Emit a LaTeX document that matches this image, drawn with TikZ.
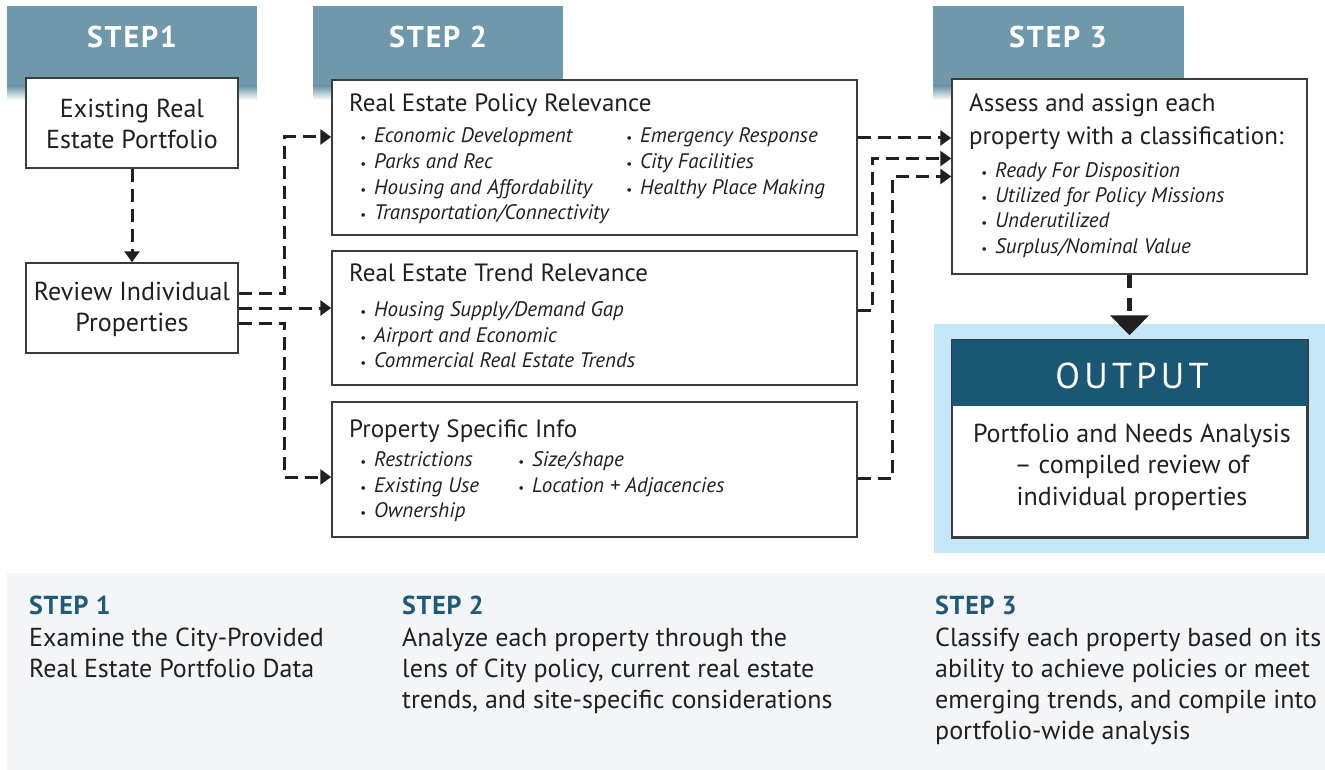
\documentclass[tikz,border=0pt]{standalone}
\usepackage{fontspec}
\setmainfont{PT Sans}
\usetikzlibrary{arrows.meta}
\definecolor{hdrblue}{RGB}{111,152,171}
\definecolor{navy}{RGB}{26,87,117}
\definecolor{steptxt}{RGB}{30,90,122}
\definecolor{skyblue}{RGB}{196,230,248}
\definecolor{panelgray}{RGB}{244,245,247}
\definecolor{ink}{RGB}{35,31,32}
\definecolor{boxline}{RGB}{60,60,60}
\newcommand{\itm}[1]{\llap{{\fontsize{13}{13}\selectfont\textbullet}\hspace{8pt}}\textit{#1}}
\begin{document}
\begin{tikzpicture}[x=1pt,y=-1pt,
    box/.style={draw=boxline, line width=1.5pt, fill=white, inner sep=0pt},
    boxtext/.style={inner sep=0pt, text=ink, align=center, font=\fontsize{26}{31}\selectfont},
    hdrlabel/.style={inner sep=0pt, anchor=base, text=white, font=\fontsize{30}{30}\selectfont\bfseries\addfontfeature{LetterSpace=6}},
    listtitle/.style={inner sep=0pt, anchor=base west, text=ink, font=\fontsize{25}{25}\selectfont},
    item/.style={inner sep=0pt, anchor=base west, text=ink, font=\fontsize{21}{21}\selectfont},
    para/.style={inner sep=0pt, anchor=base west, text=ink, font=\fontsize{26}{26}\selectfont},
    paratitle/.style={inner sep=0pt, anchor=base west, text=steptxt, font=\fontsize{26}{26}\selectfont\bfseries\addfontfeature{LetterSpace=3}},
    flow/.style={draw=ink, line width=3pt, dash pattern=on 13pt off 7pt, -{Triangle[length=11pt,width=15pt]}},
    bigflow/.style={draw=ink, line width=5pt, dash pattern=on 13pt off 10pt, -{Triangle[length=20pt,width=38pt]}}]
\useasboundingbox (0,0) rectangle (1325,770);

% step headers
\fill[hdrblue] (7,6) rectangle (257,86);
\shade[top color=hdrblue, bottom color=white] (7,86) rectangle (257,100);
\fill[hdrblue] (313,6) rectangle (563,86);
\shade[top color=hdrblue, bottom color=white] (313,86) rectangle (563,100);
\fill[hdrblue] (933,6) rectangle (1184,86);
\shade[top color=hdrblue, bottom color=white] (933,86) rectangle (1184,100);
\node[hdrlabel] (hdr1) at (132,48) {STEP1};
\node[hdrlabel] (hdr2) at (438,48) {STEP 2};
\node[hdrlabel] (hdr3) at (1058,48) {STEP 3};

% backgrounds
\fill[skyblue] (934,324) rectangle (1325,553);
\fill[panelgray] (7,573) rectangle (1325,770);

% step 1
\node[box, minimum width=212pt, minimum height=90pt] (exist) at (132,123) {};
\node[boxtext] (existtxt) at (132,124) {Existing Real\\Estate Portfolio};
\node[box, minimum width=212pt, minimum height=90pt] (review) at (132,308) {};
\node[boxtext] (reviewtxt) at (132,309) {Review Individual\\Properties};

% step 2
\node[box, minimum width=525pt, minimum height=155pt] (policy) at (594.5,157.5) {};
\node[listtitle] (poltitle) at (349,112) {Real Estate Policy Relevance};
\node[item] (pol1) at (374,143) {\itm{Economic Development}};
\node[item] (pol2) at (374,169) {\itm{Parks and Rec}};
\node[item] (pol3) at (374,195) {\itm{Housing and Affordability}};
\node[item] (pol4) at (374,220) {\itm{Transportation/Connectivity}};
\node[item] (pol5) at (640,143) {\itm{Emergency Response}};
\node[item] (pol6) at (640,169) {\itm{City Facilities}};
\node[item] (pol7) at (640,195) {\itm{Healthy Place Making}};

\node[box, minimum width=525pt, minimum height=134pt] (trend) at (594.5,318) {};
\node[listtitle] (trtitle) at (349,281) {Real Estate Trend Relevance};
\node[item] (tr1) at (374,316) {\itm{Housing Supply/Demand Gap}};
\node[item] (tr2) at (374,342) {\itm{Airport and Economic}};
\node[item] (tr3) at (374,367) {\itm{Commercial Real Estate Trends}};

\node[box, minimum width=525pt, minimum height=135pt] (prop) at (594.5,469.5) {};
\node[listtitle] (prtitle) at (349,437) {Property Specific Info};
\node[item] (pr1) at (374,466) {\itm{Restrictions}};
\node[item] (pr2) at (374,492) {\itm{Existing Use}};
\node[item] (pr3) at (374,517) {\itm{Ownership}};
\node[item] (pr4) at (532,466) {\itm{Size/shape}};
\node[item] (pr5) at (532,492) {\itm{Location + Adjacencies}};

% step 3
\node[box, minimum width=355pt, minimum height=195pt] (assess) at (1129.5,176.5) {};
\node[listtitle] (astitle1) at (969,112) {Assess and assign each};
\node[listtitle] (astitle2) at (969,145) {property with a classification:};
\node[item] (as1) at (995,178) {\itm{Ready For Disposition}};
\node[item] (as2) at (995,203) {\itm{Utilized for Policy Missions}};
\node[item] (as3) at (995,228) {\itm{Underutilized}};
\node[item] (as4) at (995,253) {\itm{Surplus/Nominal Value}};

% output
\node[box, minimum width=355pt, minimum height=197pt] (outbox) at (1129.5,438.5) {};
\fill[navy] (outbox.north west) rectangle ([yshift=-67pt]outbox.north east);
\draw[boxline, line width=1.5pt] (outbox.north west) rectangle (outbox.south east);
\node[inner sep=0pt, anchor=base, text=white, font=\fontsize{36}{36}\selectfont\addfontfeature{LetterSpace=12}] (outlbl) at (1132,388) {OUTPUT};
\node[inner sep=0pt, anchor=base, text=ink, font=\fontsize{26}{26}\selectfont] (out1) at (1132,442) {Portfolio and Needs Analysis};
\node[inner sep=0pt, anchor=base, text=ink, font=\fontsize{26}{26}\selectfont] (out2) at (1132,473) {-- compiled review of};
\node[inner sep=0pt, anchor=base, text=ink, font=\fontsize{26}{26}\selectfont] (out3) at (1132,505) {individual properties};

% connectors
\draw[flow] (exist.south) -- (review.north);
\draw[flow] ([yshift=15pt]review.east) -- ++(46,0) |- ([yshift=20.5pt]policy.west);
\draw[flow] (review.east) -- (review.east -| trend.west);
\draw[flow] ([yshift=-15pt]review.east) -- ++(46,0) |- ([yshift=-7.5pt]prop.west);
\draw[flow] ([yshift=19.5pt]policy.east) -- ([yshift=38.5pt]assess.west);
\draw[flow] ([yshift=8pt]trend.east) -- ++(15,0) |- ([yshift=18pt]assess.west);
\draw[flow] ([yshift=-8.5pt]prop.east) -- ++(35,0) |- (assess.west);
\draw[bigflow] (assess.south) -- ([yshift=4pt]outbox.north);

% bottom notes
\node[paratitle] (note1) at (29,614) {STEP 1};
\node[para] (note1a) at (29,646) {Examine the City-Provided};
\node[para] (note1b) at (29,677) {Real Estate Portfolio Data};
\node[paratitle] (note2) at (402,614) {STEP 2};
\node[para] (note2a) at (402,646) {Analyze each property through the};
\node[para] (note2b) at (402,677) {lens of City policy, current real estate};
\node[para] (note2c) at (402,708) {trends, and site-specific considerations};
\node[paratitle] (note3) at (935,614) {STEP 3};
\node[para] (note3a) at (935,646) {Classify each property based on its};
\node[para] (note3b) at (935,677) {ability to achieve policies or meet};
\node[para] (note3c) at (935,708) {emerging trends, and compile into};
\node[para] (note3d) at (935,739) {portfolio-wide analysis};
\end{tikzpicture}
\end{document}
